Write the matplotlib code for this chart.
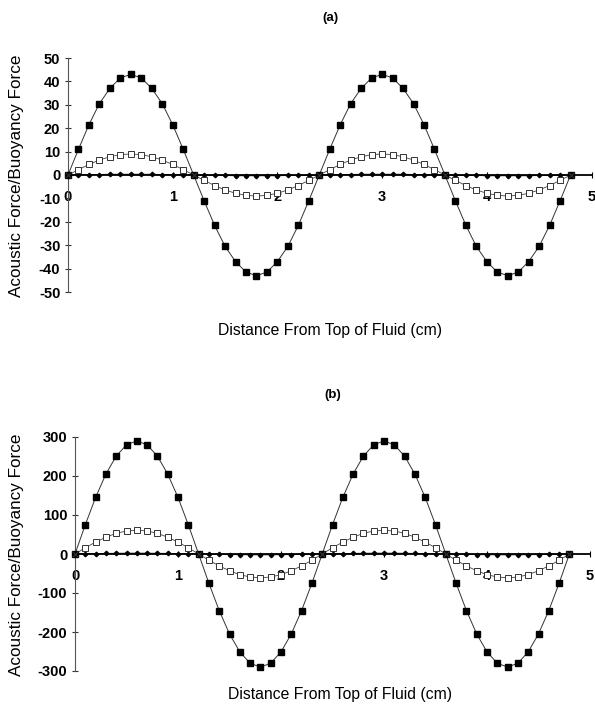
import matplotlib
matplotlib.use("Agg")
import matplotlib.pyplot as plt

plt.rcParams["axes.unicode_minus"] = False

# ---- data ----
distance = [0.0, 0.1, 0.2, 0.3, 0.4, 0.5, 0.6, 0.7, 0.8, 0.9, 1.0, 1.1, 1.2,
            1.3, 1.4, 1.5, 1.6, 1.7, 1.8, 1.9, 2.0, 2.1, 2.2, 2.3, 2.4,
            2.5, 2.6, 2.7, 2.8, 2.9, 3.0, 3.1, 3.2, 3.3, 3.4, 3.5, 3.6,
            3.7, 3.8, 3.9, 4.0, 4.1, 4.2, 4.3, 4.4, 4.5, 4.6, 4.7, 4.8]

a_filled = [0, 11, 21.5, 30.5, 37, 41.5, 43, 41.5, 37, 30.5, 21.5, 11, 0,
            -11, -21.5, -30.5, -37, -41.5, -43, -41.5, -37, -30.5, -21.5, -11, 0,
            11, 21.5, 30.5, 37, 41.5, 43, 41.5, 37, 30.5, 21.5, 11, 0,
            -11, -21.5, -30.5, -37, -41.5, -43, -41.5, -37, -30.5, -21.5, -11, 0]
a_open = [0, 2.3, 4.5, 6.4, 7.8, 8.7, 9, 8.7, 7.8, 6.4, 4.5, 2.3, 0,
          -2.3, -4.5, -6.4, -7.8, -8.7, -9, -8.7, -7.8, -6.4, -4.5, -2.3, 0,
          2.3, 4.5, 6.4, 7.8, 8.7, 9, 8.7, 7.8, 6.4, 4.5, 2.3, 0,
          -2.3, -4.5, -6.4, -7.8, -8.7, -9, -8.7, -7.8, -6.4, -4.5, -2.3, 0]
a_diamond = [0, 0.1, 0.2, 0.2, 0.3, 0.3, 0.3, 0.3, 0.3, 0.2, 0.2, 0.1, 0,
             -0.1, -0.2, -0.2, -0.3, -0.3, -0.3, -0.3, -0.3, -0.2, -0.2, -0.1, 0,
             0.1, 0.2, 0.2, 0.3, 0.3, 0.3, 0.3, 0.3, 0.2, 0.2, 0.1, 0,
             -0.1, -0.2, -0.2, -0.3, -0.3, -0.3, -0.3, -0.3, -0.2, -0.2, -0.1, 0]

b_filled = [0, 75, 145, 205, 251, 280, 290, 280, 251, 205, 145, 75, 0,
            -75, -145, -205, -251, -280, -290, -280, -251, -205, -145, -75, 0,
            75, 145, 205, 251, 280, 290, 280, 251, 205, 145, 75, 0,
            -75, -145, -205, -251, -280, -290, -280, -251, -205, -145, -75, 0]
b_open = [0, 16, 30.5, 43, 53, 59, 61, 59, 53, 43, 30.5, 16, 0,
          -16, -30.5, -43, -53, -59, -61, -59, -53, -43, -30.5, -16, 0,
          16, 30.5, 43, 53, 59, 61, 59, 53, 43, 30.5, 16, 0,
          -16, -30.5, -43, -53, -59, -61, -59, -53, -43, -30.5, -16, 0]
b_diamond = [0, 0.5, 1, 1.4, 1.7, 1.9, 2, 1.9, 1.7, 1.4, 1, 0.5, 0,
             -0.5, -1, -1.4, -1.7, -1.9, -2, -1.9, -1.7, -1.4, -1, -0.5, 0,
             0.5, 1, 1.4, 1.7, 1.9, 2, 1.9, 1.7, 1.4, 1, 0.5, 0,
             -0.5, -1, -1.4, -1.7, -1.9, -2, -1.9, -1.7, -1.4, -1, -0.5, 0]

node_x = [0.0, 1.2, 2.4, 3.6, 4.8]
node_y = [0, 0, 0, 0, 0]

x_ticks = [0, 1, 2, 3, 4, 5]
a_yticks = [-50, -40, -30, -20, -10, 0, 10, 20, 30, 40, 50]
b_yticks = [-300, -200, -100, 0, 100, 200, 300]

W, H = 595, 713
fig = plt.figure(figsize=(W / 100, H / 100), dpi=100)
FONT = "Liberation Sans"


def box(x0, x1, ytop, ybot):
    return [x0 / W, 1 - ybot / H, (x1 - x0) / W, (ybot - ytop) / H]


def panel(rect, filled, opened, diam, yticks, ylim):
    ax = fig.add_axes(rect)
    ax.set_xlim(0, 5)
    ax.set_ylim(*ylim)
    ax.patch.set_alpha(0)
    ax.plot(distance, diam, color="black", lw=0.7, marker="D", ms=2.3,
            mfc="black", mec="black", clip_on=False, zorder=3)
    ax.plot(distance, opened, color="#444444", lw=0.6, marker="s", ms=4.2,
            mfc="white", mec="#333333", mew=0.7, clip_on=False, zorder=4)
    ax.plot(distance, filled, color="#333333", lw=0.7, marker="s", ms=3.7,
            mfc="black", mec="black", clip_on=False, zorder=5)
    ax.plot(node_x, node_y, ls="none", marker="x", ms=4, mec="#333333",
            mew=0.8, clip_on=False, zorder=6)
    for s in ("top", "right"):
        ax.spines[s].set_visible(False)
    ax.spines["bottom"].set_position(("data", 0))
    ax.spines["bottom"].set_linewidth(1.3)
    ax.spines["bottom"].set_zorder(2)
    ax.spines["left"].set_linewidth(0.8)
    ax.spines["left"].set_color("#555555")
    ax.spines["left"].set_linestyle((0, (3, 1)))
    ax.set_xticks(x_ticks)
    ax.set_yticks(yticks)
    ax.tick_params(axis="x", direction="inout", length=5, width=0.8,
                   pad=8, labelsize=10.5)
    ax.tick_params(axis="y", direction="inout", length=5, width=0.8,
                   pad=3, labelsize=10.5, color="#333333")
    for lab in ax.get_xticklabels() + ax.get_yticklabels():
        lab.set_fontfamily(FONT)
        lab.set_fontweight("bold")
    return ax


panel(box(68, 591.5, 58, 292), a_filled, a_open, a_diamond, a_yticks, (-50, 50))
panel(box(75, 590, 437, 671), b_filled, b_open, b_diamond, b_yticks, (-300, 300))

fig.text(330 / W, 1 - 18 / H, "(a)", ha="center", va="center",
         fontsize=9.5, fontweight="bold", family=FONT)
fig.text(333 / W, 1 - 395 / H, "(b)", ha="center", va="center",
         fontsize=9.5, fontweight="bold", family=FONT)
fig.text(330 / W, 1 - 330 / H, "Distance From Top of Fluid (cm)",
         ha="center", va="center", fontsize=11.3, family=FONT)
fig.text(340 / W, 1 - 695 / H, "Distance From Top of Fluid (cm)",
         ha="center", va="center", fontsize=11.3, family=FONT)
fig.text(17 / W, 1 - 176 / H, "Acoustic Force/Buoyancy Force", rotation=90,
         ha="center", va="center", fontsize=12.3, family=FONT)
fig.text(17 / W, 1 - 555 / H, "Acoustic Force/Buoyancy Force", rotation=90,
         ha="center", va="center", fontsize=12.3, family=FONT)

fig.savefig("out.png", dpi=100)
